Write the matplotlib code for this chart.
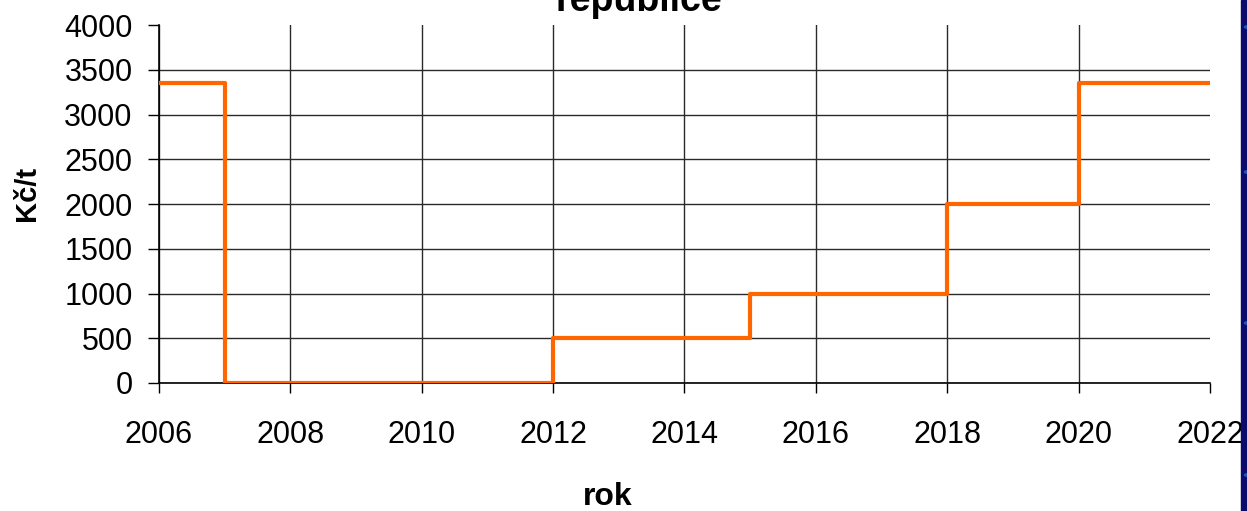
import matplotlib
matplotlib.use('Agg')
import matplotlib.pyplot as plt
from matplotlib.patches import Rectangle, Circle

plt.rcParams['font.family'] = ['Liberation Sans', 'DejaVu Sans']

# step changes of the rate (year where it starts, value in Kc/t)
roky = [2006, 2007, 2012, 2015, 2018, 2020, 2022]
sazba = [3350, 0, 500, 1000, 2000, 3350, 3350]

x_ticks = list(range(2006, 2023, 2))
y_ticks = list(range(0, 4001, 500))

fig = plt.figure(figsize=(12.47, 5.11), dpi=100)
ax = fig.add_axes([0.1275, 0.2505, 0.8428, 0.7005])

ax.step(roky, sazba, where='post', color='#FF6600', lw=3, zorder=3)

ax.set_xlim(2006, 2022)
ax.set_ylim(0, 4000)
ax.set_xticks(x_ticks)
ax.set_yticks(y_ticks)
ax.tick_params(axis='x', direction='out', length=7.5, width=1, pad=19, labelsize=22)
ax.tick_params(axis='y', direction='out', length=8, width=1, pad=11, labelsize=22)

ax.grid(True, color='#2a2a2a', lw=1)
ax.get_xgridlines()[-1].set_visible(False)
ax.get_ygridlines()[-1].set_visible(False)

for s in ['top', 'right']:
    ax.spines[s].set_visible(False)
for s in ['left', 'bottom']:
    ax.spines[s].set_linewidth(1.2)
    ax.spines[s].set_color('black')

fig.text(0.4876, 0.027, 'rok', fontsize=23, fontweight='bold', ha='center', va='center')
fig.text(0.0215, 0.622, 'Kč/t', fontsize=21, fontweight='bold', rotation=90,
         ha='center', va='center')
fig.text(0.512, 1 - 11 / 511, 'republice', fontsize=27, fontweight='bold',
         ha='center', va='baseline')

# navy slide border on the right
fig.patches.append(Rectangle((1241 / 1247, 0), 6 / 1247, 1, transform=fig.transFigure,
                             color='#0B0B6E', zorder=5))
for yy in [27, 172, 323, 475]:
    fig.patches.append(Circle((1247.5 / 1247, 1 - yy / 511), 0.0025,
                              transform=fig.transFigure, color='#1E50C8', zorder=6))

fig.savefig('out.png', dpi=100)
